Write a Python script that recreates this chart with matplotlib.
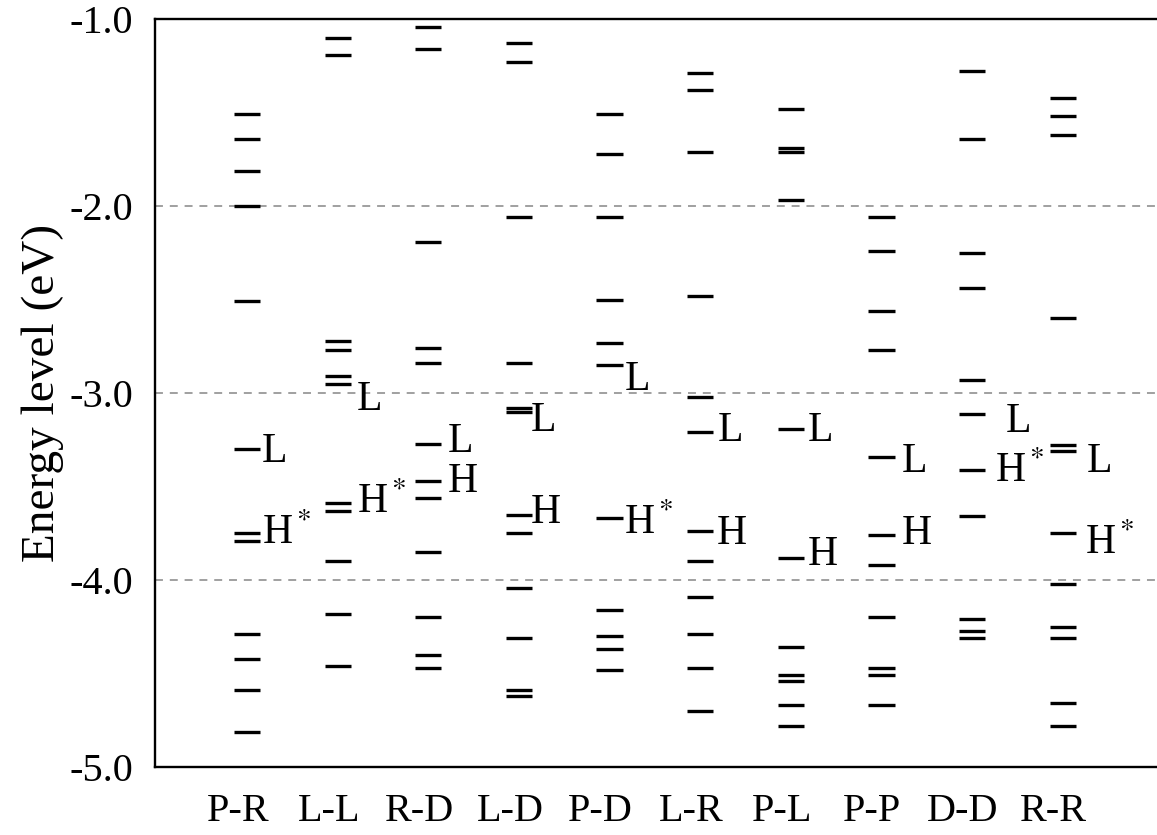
import matplotlib
matplotlib.use('Agg')
import matplotlib.pyplot as plt
from matplotlib import font_manager
from matplotlib.transforms import ScaledTranslation

# Times-like serif: Liberation Serif if found, otherwise matplotlib's STIX
available = {f.name for f in font_manager.fontManager.ttflist}
serif = 'Liberation Serif' if 'Liberation Serif' in available else 'STIXGeneral'
plt.rcParams['font.family'] = [serif, 'STIXGeneral', 'DejaVu Serif']
plt.rcParams['mathtext.fontset'] = 'stix'

categories = ['P-R', 'L-L', 'R-D', 'L-D', 'P-D', 'L-R', 'P-L', 'P-P', 'D-D', 'R-R']

# energy levels (eV) read per pair
pr_levels = [-1.51, -1.64, -1.81, -2.00, -2.51, -3.30, -3.75, -3.79,
             -4.29, -4.42, -4.59, -4.81]
ll_levels = [-1.10, -1.19, -2.72, -2.77, -2.91, -2.95, -3.59, -3.63,
             -3.90, -4.18, -4.46]
rd_levels = [-1.04, -1.16, -2.19, -2.76, -2.84, -3.27, -3.47, -3.56,
             -3.85, -4.20, -4.40, -4.47]
ld_levels = [-1.13, -1.23, -2.06, -2.84, -3.08, -3.10, -3.65, -3.75,
             -4.04, -4.31, -4.59, -4.62]
pd_levels = [-1.51, -1.72, -2.06, -2.50, -2.73, -2.85, -3.67, -4.16,
             -4.30, -4.37, -4.48]
lr_levels = [-1.29, -1.38, -1.71, -2.48, -3.02, -3.21, -3.74, -3.90,
             -4.09, -4.29, -4.47, -4.70]
pl_levels = [-1.48, -1.69, -1.71, -1.97, -3.19, -3.88, -4.36, -4.51,
             -4.54, -4.67, -4.78]
pp_levels = [-2.06, -2.24, -2.56, -2.77, -3.34, -3.76, -3.92, -4.20,
             -4.47, -4.51, -4.67]
dd_levels = [-1.28, -1.64, -2.25, -2.44, -2.93, -3.11, -3.41, -3.66,
             -4.21, -4.27, -4.31]
rr_levels = [-1.42, -1.52, -1.62, -2.60, -3.28, -3.31, -3.75, -4.02,
             -4.25, -4.31, -4.66, -4.78]

all_levels = [pr_levels, ll_levels, rd_levels, ld_levels, pd_levels,
              lr_levels, pl_levels, pp_levels, dd_levels, rr_levels]

homo_tags = ['H$^*$', 'H$^*$', 'H', 'H', 'H$^*$', 'H', 'H', 'H', 'H$^*$', 'H$^*$']

# where the L / H tags sit (offset from column centre, energy)
lumo_dx = [0.165, 0.21, 0.21, 0.13, 0.165, 0.19, 0.19, 0.22, 0.37, 0.26]
lumo_y = [-3.29, -3.01, -3.235, -3.126, -2.904, -3.179, -3.179, -3.345, -3.128, -3.345]
homo_dx = [0.165, 0.21, 0.21, 0.13, 0.16, 0.18, 0.19, 0.22, 0.25, 0.25]
homo_y = [-3.727, -3.564, -3.452, -3.618, -3.676, -3.727, -3.842, -3.727, -3.398, -3.781]


def plot_levels(ax):
    half = 0.145
    for i, levels in enumerate(all_levels):
        ax.hlines(levels, i - half, i + half, colors='black', lw=2.4)
        ax.text(i + lumo_dx[i], lumo_y[i], 'L', fontsize=30,
                ha='left', va='center_baseline')
        ax.text(i + homo_dx[i], homo_y[i], homo_tags[i], fontsize=30,
                ha='left', va='center_baseline')


fig = plt.figure(figsize=(11.57, 8.35), dpi=100)
ax = fig.add_axes([0.134, 0.0814, 0.866, 0.8958])

for y in [-2.0, -3.0, -4.0]:
    ax.axhline(y, color='#999999', lw=1.3, linestyle=(0, (4.4, 3.8)), zorder=0)

plot_levels(ax)

ax.set_xlim(-1.015, 10.04)
ax.set_ylim(-5.0, -1.0)
ax.set_yticks([-1.0, -2.0, -3.0, -4.0, -5.0])
ax.set_yticklabels(['-1.0', '-2.0', '-3.0', '-4.0', '-5.0'])
ax.set_xticks(range(len(categories)))
ax.set_xticklabels(categories)
ax.tick_params(axis='y', length=0, pad=16, labelsize=29)
ax.tick_params(axis='x', length=0, pad=19, labelsize=29)
ax.set_ylabel('Energy level (eV)', fontsize=34, labelpad=4)

# category names sit a little left of their columns in the original
shift = ScaledTranslation(-0.09, 0, fig.dpi_scale_trans)
for label in ax.get_xticklabels():
    label.set_transform(label.get_transform() + shift)

ax.spines['right'].set_visible(False)
for side in ['left', 'top', 'bottom']:
    ax.spines[side].set_linewidth(1.7)

fig.savefig('out.png', dpi=100)
